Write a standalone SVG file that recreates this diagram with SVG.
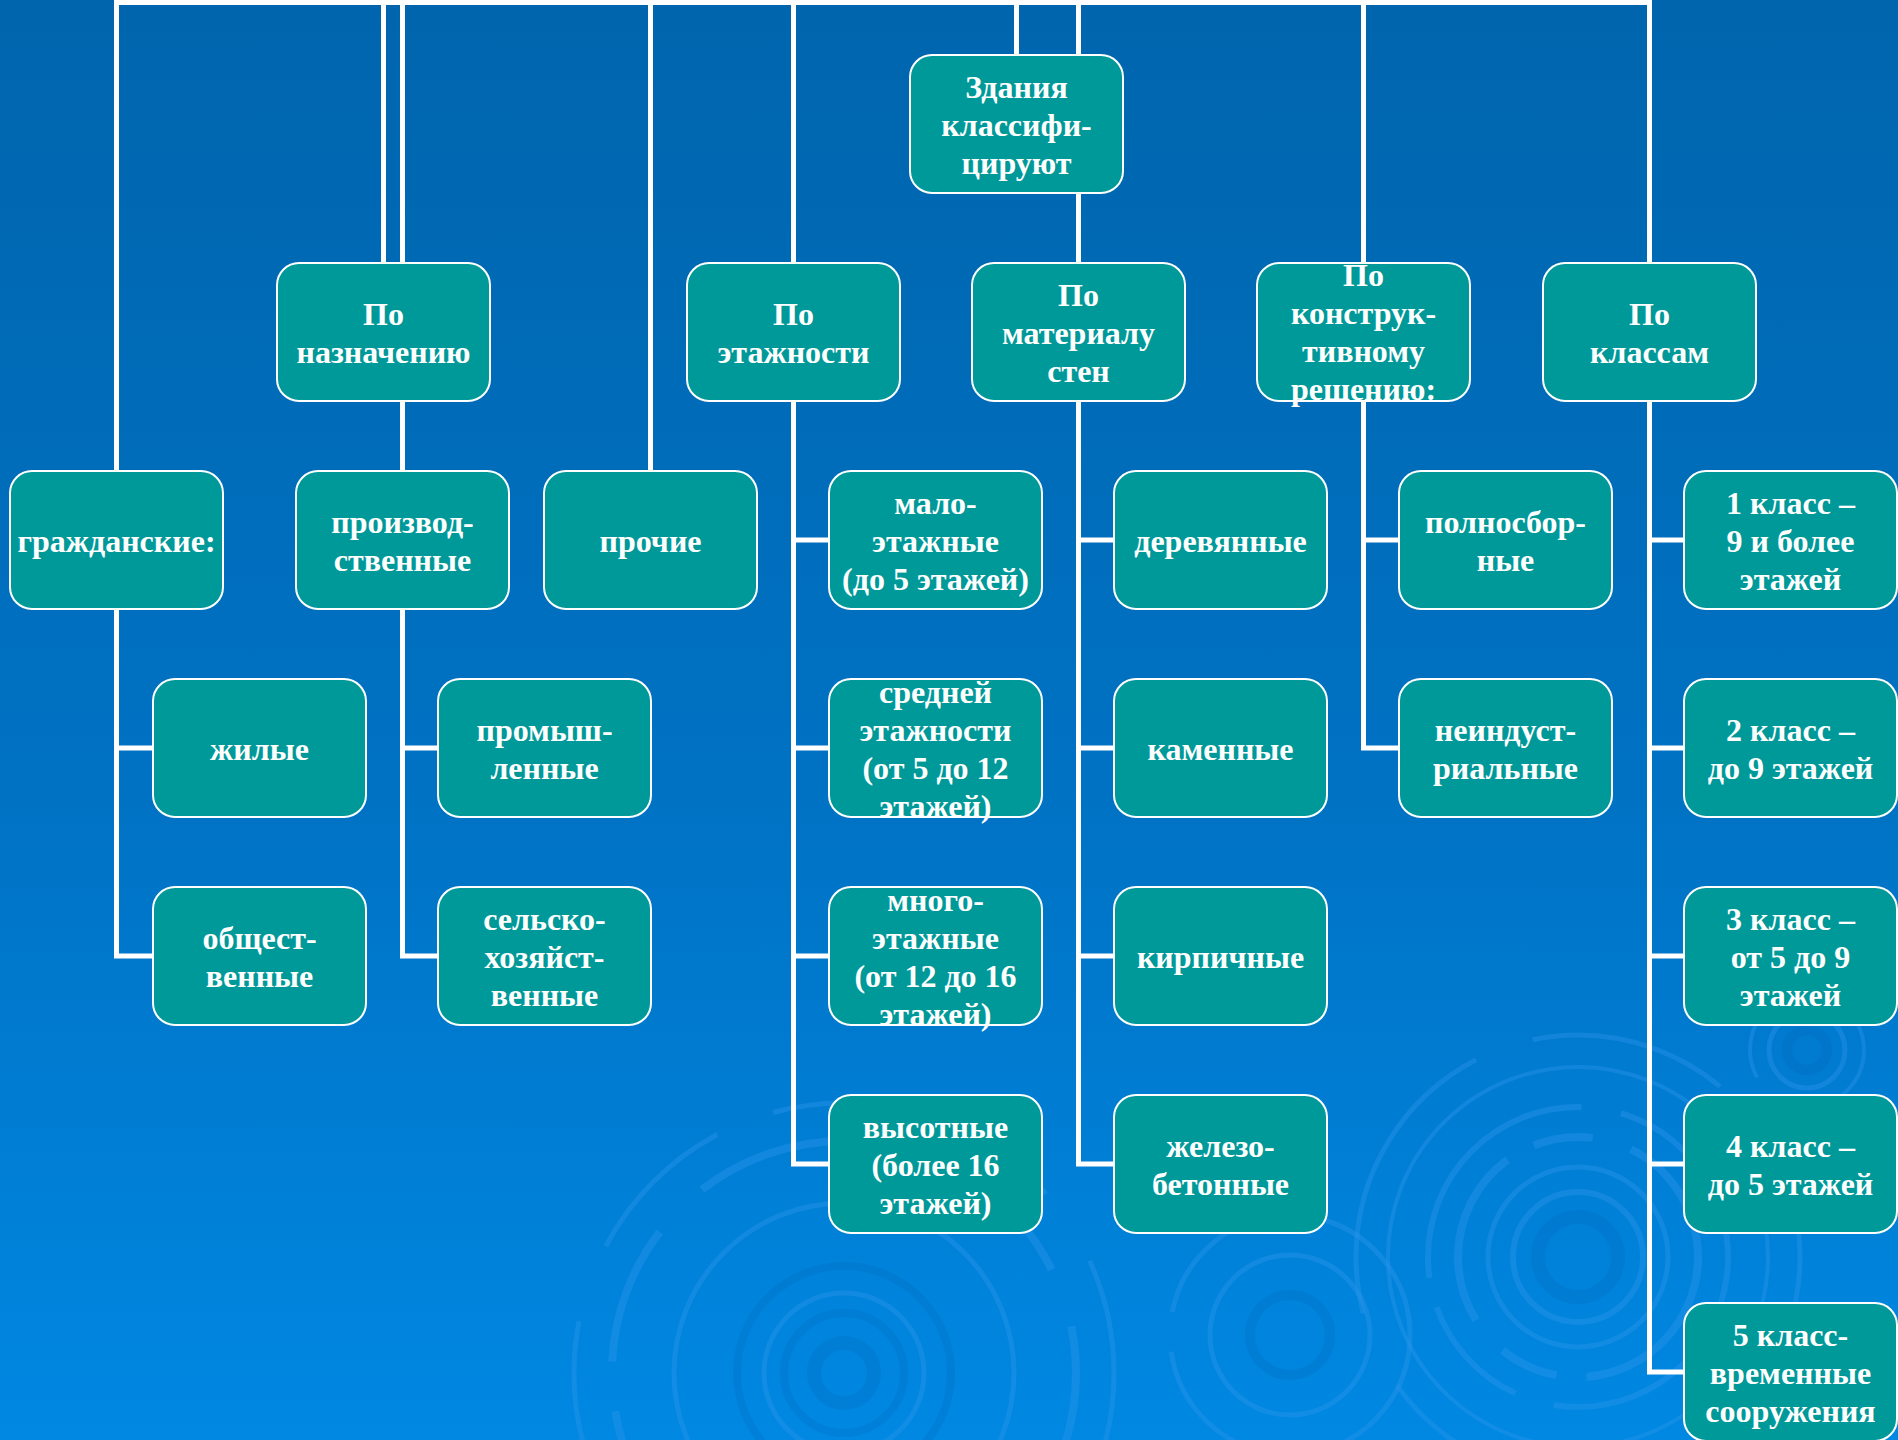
<svg xmlns="http://www.w3.org/2000/svg" width="1898" height="1440" viewBox="0 0 1898 1440">
<defs>
<linearGradient id="bg" x1="0" y1="0" x2="0" y2="1">
<stop offset="0" stop-color="#0065AD"/>
<stop offset="0.55" stop-color="#0072C4"/>
<stop offset="1" stop-color="#0088E2"/>
</linearGradient>
<style>
.node rect{fill:#009999;stroke:#FFFFFF;stroke-width:2}
.node text{fill:#FFFFFF;font-family:"Liberation Serif","Times New Roman",serif;font-weight:bold;font-size:32px;text-anchor:middle}
.conn path{fill:none;stroke:#FFFFFF;stroke-width:5;stroke-linejoin:miter;stroke-linecap:butt}
.rip{fill:none;stroke:#2C96EC;stroke-opacity:0.4}
.ripd{fill:none;stroke:#005FB0;stroke-opacity:0.18}
</style>
</defs>
<rect x="0" y="0" width="1898" height="1440" fill="url(#bg)"/>
<g id="ripples">
<circle class="ripd" cx="1578" cy="1257" r="40" stroke-width="14"/>
<circle class="rip" cx="1578" cy="1257" r="65" stroke-width="6"/>
<circle class="rip" cx="1578" cy="1257" r="90" stroke-width="5"/>
<circle class="rip" cx="1578" cy="1257" r="120" stroke-width="8" stroke-dasharray="180 30 60 40"/>
<circle class="rip" cx="1578" cy="1257" r="150" stroke-width="6" stroke-dasharray="260 40 120 30"/>
<circle class="rip" cx="1578" cy="1257" r="190" stroke-width="4"/>
<circle class="rip" cx="1578" cy="1257" r="222" stroke-width="5" stroke-dasharray="300 60 200 80"/>
<circle class="ripd" cx="844" cy="1373" r="30" stroke-width="14"/>
<circle class="ripd" cx="844" cy="1373" r="60" stroke-width="8"/>
<circle class="rip" cx="844" cy="1373" r="80" stroke-width="5"/>
<circle class="ripd" cx="844" cy="1373" r="107" stroke-width="8"/>
<circle class="rip" cx="844" cy="1373" r="170" stroke-width="5"/>
<circle class="rip" cx="844" cy="1373" r="232" stroke-width="8" stroke-dasharray="220 50 140 60"/>
<circle class="rip" cx="844" cy="1373" r="270" stroke-width="5" stroke-dasharray="300 80 160 60"/>
<circle class="ripd" cx="1807" cy="1050" r="20" stroke-width="10"/>
<circle class="rip" cx="1807" cy="1050" r="38" stroke-width="5"/>
<circle class="rip" cx="1807" cy="1050" r="57" stroke-width="4" stroke-dasharray="120 30"/>
<circle class="ripd" cx="1290" cy="1335" r="40" stroke-width="10"/>
<circle class="rip" cx="1290" cy="1335" r="80" stroke-width="5"/>
<circle class="rip" cx="1290" cy="1335" r="120" stroke-width="5" stroke-dasharray="160 40"/>
</g>
<g id="connectors" class="conn">
<path d="M116.5,471 V2.5 H1649.5 V263"/>
<path d="M383.5,263 V2.5"/>
<path d="M402.5,471 V2.5"/>
<path d="M650.5,471 V2.5"/>
<path d="M793.5,263 V2.5"/>
<path d="M1016.5,55 V2.5"/>
<path d="M1078.5,263 V2.5"/>
<path d="M1363.5,263 V2.5"/>
<path d="M116.5,608 V956 H153 M116.5,748 H153"/>
<path d="M402.5,608 V956 H438 M402.5,748 H438"/>
<path d="M793.5,401 V1164 H829 M793.5,540 H829 M793.5,748 H829 M793.5,956 H829"/>
<path d="M1078.5,401 V1164 H1114 M1078.5,540 H1114 M1078.5,748 H1114 M1078.5,956 H1114"/>
<path d="M1363.5,401 V748 H1399 M1363.5,540 H1399"/>
<path d="M1649.5,401 V1372 H1684 M1649.5,540 H1684 M1649.5,748 H1684 M1649.5,956 H1684 M1649.5,1164 H1684"/>
</g>
<g id="n-root" class="node"><rect x="910" y="55" width="213" height="138" rx="22"/><text x="1016.5" y="98">Здания</text><text x="1016.5" y="136">классифи-</text><text x="1016.5" y="174">цируют</text></g>
<g id="n-naznach" class="node"><rect x="277" y="263" width="213" height="138" rx="22"/><text x="383.5" y="325">По</text><text x="383.5" y="363">назначению</text></g>
<g id="n-etazh" class="node"><rect x="687" y="263" width="213" height="138" rx="22"/><text x="793.5" y="325">По</text><text x="793.5" y="363">этажности</text></g>
<g id="n-mater" class="node"><rect x="972" y="263" width="213" height="138" rx="22"/><text x="1078.5" y="306">По</text><text x="1078.5" y="344">материалу</text><text x="1078.5" y="382">стен</text></g>
<g id="n-konstr" class="node"><rect x="1257" y="263" width="213" height="138" rx="22"/><text x="1363.5" y="286">По</text><text x="1363.5" y="324">конструк-</text><text x="1363.5" y="362">тивному</text><text x="1363.5" y="400">решению:</text></g>
<g id="n-klass" class="node"><rect x="1543" y="263" width="213" height="138" rx="22"/><text x="1649.5" y="325">По</text><text x="1649.5" y="363">классам</text></g>
<g id="n-grazhd" class="node"><rect x="10" y="471" width="213" height="138" rx="22"/><text x="116.5" y="552">гражданские:</text></g>
<g id="n-proizv" class="node"><rect x="296" y="471" width="213" height="138" rx="22"/><text x="402.5" y="533">производ-</text><text x="402.5" y="571">ственные</text></g>
<g id="n-prochie" class="node"><rect x="544" y="471" width="213" height="138" rx="22"/><text x="650.5" y="552">прочие</text></g>
<g id="n-malo" class="node"><rect x="829" y="471" width="213" height="138" rx="22"/><text x="935.5" y="514">мало-</text><text x="935.5" y="552">этажные</text><text x="935.5" y="590">(до 5 этажей)</text></g>
<g id="n-derev" class="node"><rect x="1114" y="471" width="213" height="138" rx="22"/><text x="1220.5" y="552">деревянные</text></g>
<g id="n-polnosb" class="node"><rect x="1399" y="471" width="213" height="138" rx="22"/><text x="1505.5" y="533">полносбор-</text><text x="1505.5" y="571">ные</text></g>
<g id="n-k1" class="node"><rect x="1684" y="471" width="213" height="138" rx="22"/><text x="1790.5" y="514">1 класс –</text><text x="1790.5" y="552">9 и более</text><text x="1790.5" y="590">этажей</text></g>
<g id="n-zhilye" class="node"><rect x="153" y="679" width="213" height="138" rx="22"/><text x="259.5" y="760">жилые</text></g>
<g id="n-promysh" class="node"><rect x="438" y="679" width="213" height="138" rx="22"/><text x="544.5" y="741">промыш-</text><text x="544.5" y="779">ленные</text></g>
<g id="n-sredn" class="node"><rect x="829" y="679" width="213" height="138" rx="22"/><text x="935.5" y="703">средней</text><text x="935.5" y="741">этажности</text><text x="935.5" y="779">(от 5 до 12</text><text x="935.5" y="817">этажей)</text></g>
<g id="n-kamen" class="node"><rect x="1114" y="679" width="213" height="138" rx="22"/><text x="1220.5" y="760">каменные</text></g>
<g id="n-neind" class="node"><rect x="1399" y="679" width="213" height="138" rx="22"/><text x="1505.5" y="741">неиндуст-</text><text x="1505.5" y="779">риальные</text></g>
<g id="n-k2" class="node"><rect x="1684" y="679" width="213" height="138" rx="22"/><text x="1790.5" y="741">2 класс –</text><text x="1790.5" y="779">до 9 этажей</text></g>
<g id="n-obshch" class="node"><rect x="153" y="887" width="213" height="138" rx="22"/><text x="259.5" y="949">общест-</text><text x="259.5" y="987">венные</text></g>
<g id="n-selsko" class="node"><rect x="438" y="887" width="213" height="138" rx="22"/><text x="544.5" y="930">сельско-</text><text x="544.5" y="968">хозяйст-</text><text x="544.5" y="1006">венные</text></g>
<g id="n-mnogo" class="node"><rect x="829" y="887" width="213" height="138" rx="22"/><text x="935.5" y="911">много-</text><text x="935.5" y="949">этажные</text><text x="935.5" y="987">(от 12 до 16</text><text x="935.5" y="1025">этажей)</text></g>
<g id="n-kirp" class="node"><rect x="1114" y="887" width="213" height="138" rx="22"/><text x="1220.5" y="968">кирпичные</text></g>
<g id="n-k3" class="node"><rect x="1684" y="887" width="213" height="138" rx="22"/><text x="1790.5" y="930">3 класс –</text><text x="1790.5" y="968">от 5 до 9</text><text x="1790.5" y="1006">этажей</text></g>
<g id="n-vysot" class="node"><rect x="829" y="1095" width="213" height="138" rx="22"/><text x="935.5" y="1138">высотные</text><text x="935.5" y="1176">(более 16</text><text x="935.5" y="1214">этажей)</text></g>
<g id="n-zhb" class="node"><rect x="1114" y="1095" width="213" height="138" rx="22"/><text x="1220.5" y="1157">железо-</text><text x="1220.5" y="1195">бетонные</text></g>
<g id="n-k4" class="node"><rect x="1684" y="1095" width="213" height="138" rx="22"/><text x="1790.5" y="1157">4 класс –</text><text x="1790.5" y="1195">до 5 этажей</text></g>
<g id="n-k5" class="node"><rect x="1684" y="1303" width="213" height="138" rx="22"/><text x="1790.5" y="1346">5 класс-</text><text x="1790.5" y="1384">временные</text><text x="1790.5" y="1422">сооружения</text></g>
</svg>
